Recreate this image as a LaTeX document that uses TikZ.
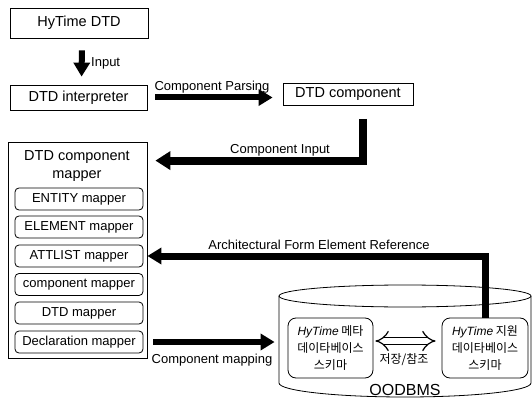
\documentclass[tikz,border=0pt]{standalone}
\usepackage{fontspec}
\setmainfont{Liberation Sans}
\newfontfamily\krfont{Noto Sans CJK KR}
\usetikzlibrary{arrows.meta}

\tikzset{
  box/.style={draw, line width=0.8pt, inner sep=0pt, font=\fontsize{14.5}{17}\selectfont},
  mapbox/.style={draw, rounded corners=4pt, line width=0.8pt, minimum width=128pt, minimum height=22pt, inner sep=0pt, font=\fontsize{13}{15}\selectfont},
  dbbox/.style={draw, rounded corners=8pt, line width=0.8pt, minimum height=60pt, inner sep=0pt, align=center, font=\krfont\fontsize{12}{17}\selectfont},
  lbl/.style={font=\fontsize{13}{15}\selectfont, inner sep=0pt},
  bigarrow/.style={line width=6pt, -{Triangle[length=14pt,width=16pt]}},
}

\begin{document}
\begin{tikzpicture}[x=1pt,y=-1pt]
\useasboundingbox (0,0) rectangle (532,398);
% top row
\node[box, minimum width=138pt, minimum height=30pt] (hytime) at (79,23) {HyTime DTD};
\node[box, minimum width=137pt, minimum height=25pt] (interp) at (78.5,97.5) {DTD interpreter};
\node[box, minimum width=130pt, minimum height=22pt] (comp) at (348,94.5) {DTD component};
% mapper column
\node[box, minimum width=139pt, minimum height=216pt] (mapper) at (77.5,250) {};
\node[align=center, inner sep=0pt, font=\fontsize{14.5}{18}\selectfont] (maptitle) at (77,166) {DTD component\\mapper};
\node[mapbox] (entity) at (79,199) {ENTITY mapper};
\node[mapbox] (element) at (79,227) {ELEMENT mapper};
\node[mapbox] (attlist) at (79,256) {ATTLIST mapper};
\node[mapbox] (compmap) at (79,284.5) {component mapper};
\node[mapbox] (dtdmap) at (79,313) {DTD mapper};
\node[mapbox] (declmap) at (79,342) {Declaration mapper};
% database
\draw[line width=0.8pt] (405,296) ellipse [x radius=126, y radius=11];
\draw[line width=0.8pt] (279,296) -- (279,383) arc[start angle=180, end angle=0, x radius=126, y radius=14] -- (531,296);
\node[dbbox, minimum width=85pt] (dbl) at (330.5,348) {{\normalfont\itshape HyTime} 메타\\데이타베이스\\스키마};
\node[dbbox, minimum width=86pt] (dbr) at (485,348) {{\normalfont\itshape HyTime} 지원\\데이타베이스\\스키마};
\node[font=\fontsize{16}{18}\selectfont, inner sep=0pt] (oodbms) at (405,390) {OODBMS};
\node[font=\krfont\fontsize{12}{14}\selectfont, inner sep=0pt] (store) at (404,360) {저장/참조};

% arrows
\draw[bigarrow, shorten <=12pt, shorten >=8pt] ([xshift=3pt]hytime.south) -- ([xshift=3pt]interp.north);
\node[lbl, anchor=west] (inputlbl) at (91,63) {Input};
\draw[bigarrow, shorten <=8pt, shorten >=10pt] (interp.east) -- (interp.east -| comp.west);
\node[lbl] (parselbl) at (212,87) {Component Parsing};
\draw[bigarrow, line width=8pt, -{Triangle[length=15pt,width=18pt]}, shorten >=8pt] ([xshift=15pt,yshift=-13pt]comp.south) |- ([yshift=-19pt]mapper.north east);
\node[lbl] (cinlbl) at (280,150) {Component Input};
\draw[bigarrow, line width=7pt, -{Triangle[length=14pt,width=16pt]}, shorten >=4pt] (dbr.north) |- (attlist.east);
\node[lbl] (archlbl) at (319,245) {Architectural Form Element Reference};
\draw[bigarrow, shorten <=10pt, shorten >=13pt] (declmap.east) -- (declmap.east -| dbl.west);
\node[lbl] (maplbl) at (212,360) {Component mapping};
\draw[line width=1.2pt, double distance=6pt, {Implies}-{Implies}, shorten <=2pt, shorten >=6pt] ([yshift=7pt]dbl.east) -- ([yshift=7pt]dbr.west);
\end{tikzpicture}
\end{document}
